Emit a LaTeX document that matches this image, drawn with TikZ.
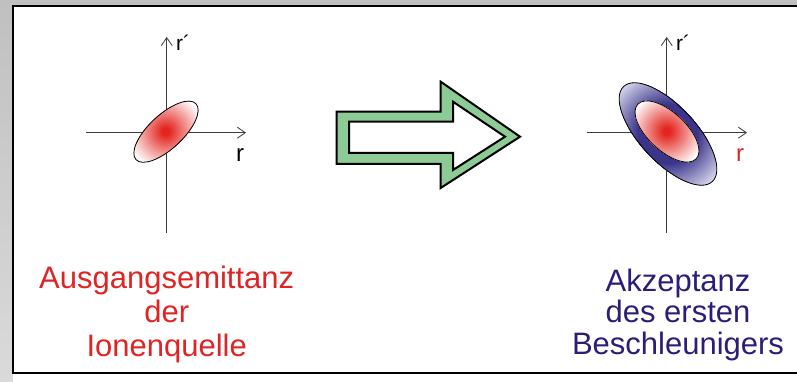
\documentclass[tikz,border=0pt]{standalone}
\usepackage{fontspec}
\setmainfont{Liberation Sans}
\usetikzlibrary{arrows.meta}
\definecolor{bggray}{RGB}{192,192,192}
\definecolor{bglight}{RGB}{218,218,218}
\definecolor{emred}{RGB}{228,36,30}
\definecolor{txtred}{RGB}{222,36,36}
\definecolor{txtblue}{RGB}{44,30,120}
\definecolor{ringdark}{RGB}{58,52,138}
\definecolor{ringlight}{RGB}{218,218,238}
\definecolor{arrgreen}{RGB}{140,202,150}
\definecolor{axisgray}{RGB}{60,60,60}
\tikzset{
  axisline/.style={draw=axisgray, line width=0.8pt, -{Straight Barb[length=8pt,width=11pt]}},
  outline/.style={draw=black, line width=0.8pt},
  bigtext/.style={font=\fontsize{31}{31}\selectfont, anchor=base, inner sep=0pt},
  axlabel/.style={font=\fontsize{24}{24}\selectfont, anchor=base west, inner sep=0pt},
  axlabelp/.style={font=\fontsize{21}{21}\selectfont, anchor=base west, inner sep=0pt},
  blockarrow/.style={line width=2pt, draw=black, line join=miter}
}
% radial red spot clipped to a given ellipse: #1 centre, #2 ellipse options
\newcommand{\redspot}[2]{%
  \begin{scope}
    \clip #1 ellipse[#2];
    \foreach \rr in {44,43,...,1}{%
      \pgfmathtruncatemacro\pp{min(100,max(0,100*(39-\rr)/35))}%
      \fill[emred!\pp!white] #1 circle[radius=\rr pt];
    }
  \end{scope}
  \draw[outline] #1 ellipse[#2];
}
\begin{document}
\begin{tikzpicture}[x=1pt,y=1pt]
\useasboundingbox (0,0) rectangle (797,382);
% background and frame
\shade[top color=bggray, bottom color=bglight] (0,0) rectangle (797,382);
\fill[white] (12.5,0) rectangle (797,376);
\draw[line width=2pt] (800,376) -- (12.5,376) -- (12.5,9) -- (800,9);

% left diagram
\coordinate (lvt) at (166.7,345);
\coordinate (lvb) at (166.7,149);
\coordinate (lhl) at (86,249.3);
\coordinate (lhr) at (246,249.3);
\draw[axisline] (lvb) -- (lvt);
\draw[axisline] (lhl) -- (lhr);
\coordinate (lc) at (166,250.3);
\redspot{(lc)}{x radius=41pt, y radius=17pt, rotate=43}
\node[axlabelp] (lrp) at (176,331.5) {r´};
\node[axlabel] (lr) at (236,220.3) {r};

% right diagram
\coordinate (rvt) at (666.7,345);
\coordinate (rvb) at (666.7,149);
\coordinate (rhl) at (587,249.3);
\coordinate (rhr) at (747,249.3);
\draw[axisline] (rvb) -- (rvt);
\draw[axisline] (rhl) -- (rhr);
\coordinate (rc) at (668,248);
\begin{scope}
  \clip (rc) ellipse[x radius=65pt, y radius=28pt, rotate=-47];
  \foreach \rr in {70,69,...,1}{%
    \pgfmathtruncatemacro\pp{min(100,max(0,100*(66-\rr)/36))}%
    \fill[ringdark!\pp!ringlight] (rc) circle[radius=\rr pt];
  }
\end{scope}
\draw[outline] (rc) ellipse[x radius=65pt, y radius=28pt, rotate=-47];
\coordinate (ric) at (667,250.5);
\fill[white] (ric) ellipse[x radius=40pt, y radius=19pt, rotate=-43];
\redspot{(ric)}{x radius=40pt, y radius=19pt, rotate=-43}
\node[axlabelp] (rrp) at (676,331.5) {r´};
\node[axlabel, text=txtred] (rr) at (736,220.3) {r};

% block arrow
\fill[arrgreen] (336.7,270.3) -- (440.7,270.3) -- (440.7,300.3) -- (520,245.3) -- (440.7,194) -- (440.7,218) -- (336.7,218) -- cycle;
\draw[blockarrow] (336.7,270.3) -- (440.7,270.3) -- (440.7,300.3) -- (520,245.3) -- (440.7,194) -- (440.7,218) -- (336.7,218) -- cycle;
\path[blockarrow, fill=white] (349,260.3) -- (453,260.3) -- (453,280.3) -- (505,245.3) -- (453,212) -- (453,229) -- (349,229) -- cycle;

% texts
\node[bigtext, text=txtred] (t1) at (166.7,93.7) {Ausgangsemittanz};
\node[bigtext, text=txtred] (t2) at (166.7,59) {der};
\node[bigtext, text=txtred] (t3) at (166.7,25) {Ionenquelle};
\node[bigtext, text=txtblue] (u1) at (678,90.3) {Akzeptanz};
\node[bigtext, text=txtblue] (u2) at (678,59) {des ersten};
\node[bigtext, text=txtblue] (u3) at (678,27) {Beschleunigers};
\end{tikzpicture}
\end{document}
